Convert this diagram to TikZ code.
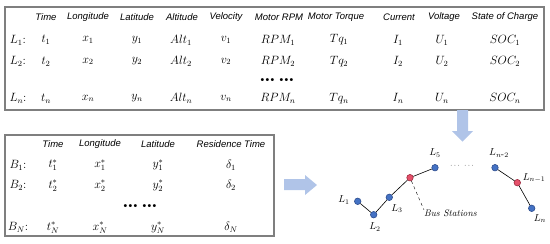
\documentclass[tikz,border=0pt]{standalone}
\usepackage{fontspec}
\setsansfont{Liberation Sans}
\definecolor{BoxGray}{HTML}{7F7F7F}
\definecolor{ArrowBlue}{HTML}{B0C4E8}
\definecolor{StopBlue}{HTML}{4472C4}
\definecolor{StopBlueDark}{HTML}{2F4F8F}
\definecolor{StopRed}{HTML}{E5506A}
\definecolor{StopRedDark}{HTML}{9E2A3E}
\usetikzlibrary{arrows.meta, positioning}
\tikzset{
  hdr/.style={font=\sffamily\itshape\fontsize{9.5}{11}\selectfont, inner sep=0pt},
  val/.style={font=\fontsize{12}{14}\selectfont, inner sep=0pt},
  dots/.style={font=\fontsize{10.5}{12}\selectfont, inner sep=0pt},
  stop/.style={circle, draw=StopBlueDark, fill=StopBlue, minimum size=6.5pt, inner sep=0pt, line width=0.6pt},
  station/.style={circle, draw=StopRedDark, fill=StopRed, minimum size=6.5pt, inner sep=0pt, line width=0.6pt},
  lbl/.style={font=\fontsize{10}{12}\selectfont, inner sep=0pt},
  tablebox/.style={draw=BoxGray, line width=1.2pt}
}
\newcommand{\threedots}{\textbullet\kern-3.2pt\textbullet\kern-3.2pt\textbullet}
\newcommand{\sixdots}{\threedots\kern1pt\threedots}
\begin{document}
\begin{tikzpicture}[x=1pt, y=-1pt]
            \useasboundingbox (0,0) rectangle (550,244);
            % vehicle data table
            \draw[tablebox] (5,7) rectangle (544,110);
            \foreach \x/\t [count=\i] in {46/Time, 88/Longitude, 137/Latitude, 182/Altitude, 226/Velocity,
                                           279/Motor RPM, 336/Motor Torque, 399/Current, 444/Voltage, 505/State of Charge}
               \node[hdr] (hl\i) at (\x,17.5) {\t};
            \foreach \y/\r in {40/1, 61.5/2, 98.5/n}{
               \node[val] (L\r) at (18,\y) {$L_\r$:};
               \node[val] (t\r) at (46,\y) {$t_\r$};
               \node[val] (x\r) at (88,\y) {$x_\r$};
               \node[val] (y\r) at (137,\y) {$y_\r$};
               \node[val] (alt\r) at (181,\y) {$Alt_\r$};
               \node[val] (v\r) at (226,\y) {$v_\r$};
               \node[val] (rpm\r) at (278,\y) {$RPM_\r$};
               \node[val] (tq\r) at (339,\y) {$Tq_\r$};
               \node[val] (I\r) at (398,\y) {$I_\r$};
               \node[val] (U\r) at (442,\y) {$U_\r$};
               \node[val] (soc\r) at (505,\y) {$SOC_\r$};
            }
            \node[dots] (ldots) at (277,80.5) {\sixdots};
            % bus station table
            \draw[tablebox] (5,135) rectangle (274,236);
            \foreach \x/\t [count=\i] in {53/Time, 100/Longitude, 158/Latitude, 231/Residence Time}
               \node[hdr] (hb\i) at (\x,144.5) {\t};
            \foreach \y/\r in {165/1, 185.5/2, 227.5/N}{
               \node[val] (B\r) at (18,\y) {$B_\r$:};
               \node[val] (ts\r) at (53,\y) {$t^*_\r$};
               \node[val] (xs\r) at (100,\y) {$x^*_\r$};
               \node[val] (ys\r) at (158,\y) {$y^*_\r$};
               \node[val] (d\r) at (231,\y) {$\delta_\r$};
            }
            \node[dots] (bdots) at (140,207) {\sixdots};
            % block arrows
            \fill[ArrowBlue] (284,179) -- (305,179) -- (305,175) -- (317,185) -- (305,195) -- (305,190) -- (284,190) -- cycle;
            \fill[ArrowBlue] (457,110) -- (468,110) -- (468,131) -- (473,131) -- (462.5,141.5) -- (452,131) -- (457,131) -- cycle;
            % route with bus stations
            \node[stop] (p1) at (357.7,201.3) {};
            \node[stop] (p2) at (373.7,214.7) {};
            \node[stop] (p3) at (389.3,197.3) {};
            \node[station] (s1) at (410,177.7) {};
            \node[stop] (p5) at (435,167.7) {};
            \node[stop] (pn2) at (495,167.7) {};
            \node[station] (s2) at (517.3,182.7) {};
            \node[stop] (pn) at (531.7,208.3) {};
            \draw[semithick] (p1) -- (p2) -- (p3) -- (s1) -- (p5);
            \draw[semithick] (pn2) -- (s2) -- (pn);
            \node[lbl] (lp1) at (344,200) {$L_1$};
            \node[lbl] (lp2) at (375,227) {$L_2$};
            \node[lbl] (lp3) at (397,208.5) {$L_3$};
            \node[lbl] (lp5) at (435,153) {$L_5$};
            \node[lbl] (lpn2) at (499,153) {$L_{n\mbox{-}2}$};
            \node[lbl] (lpn1) at (534,178) {$L_{n-1}$};
            \node[lbl] (lpn) at (540,218.5) {$L_n$};
            \node[lbl, font=\fontsize{7}{8}\selectfont] (gap) at (462,166) {$\cdots\ \cdots$};
            \node[lbl, font=\itshape\fontsize{9.5}{11}\selectfont, anchor=west] (bus) at (424,213.5) {Bus Stations};
            \draw[dashed, thin] (s1) -- (bus.north west);
\end{tikzpicture}
\end{document}
